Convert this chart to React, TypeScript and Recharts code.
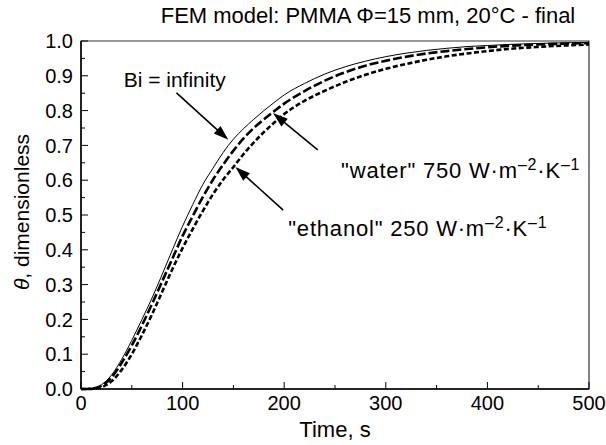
import React from 'react';
import { LineChart, Line, XAxis, YAxis, ReferenceArea, ReferenceLine, ReferenceDot, Label } from 'recharts';

const times = [0, 10, 20, 30, 40, 50, 60, 70, 80, 90, 100, 110, 120, 130, 140, 150, 160, 170, 180, 190, 200, 220, 240, 260, 280, 300, 320, 340, 360, 380, 400, 420, 450, 500];
const biInfinity = [0, 0.001, 0.012, 0.04, 0.085, 0.14, 0.2, 0.262, 0.33, 0.4, 0.468, 0.53, 0.588, 0.635, 0.68, 0.718, 0.748, 0.775, 0.8, 0.823, 0.845, 0.878, 0.905, 0.926, 0.942, 0.955, 0.965, 0.973, 0.979, 0.984, 0.987, 0.99, 0.993, 0.996];
const water = [0, 0.001, 0.009, 0.033, 0.075, 0.125, 0.183, 0.245, 0.31, 0.375, 0.44, 0.497, 0.552, 0.602, 0.645, 0.685, 0.72, 0.75, 0.775, 0.798, 0.82, 0.856, 0.886, 0.91, 0.929, 0.943, 0.955, 0.964, 0.971, 0.977, 0.982, 0.986, 0.99, 0.994];
const ethanol = [0, 0.0005, 0.005, 0.022, 0.055, 0.1, 0.155, 0.215, 0.28, 0.345, 0.405, 0.46, 0.512, 0.56, 0.602, 0.638, 0.675, 0.708, 0.738, 0.765, 0.79, 0.828, 0.857, 0.882, 0.903, 0.92, 0.934, 0.946, 0.956, 0.964, 0.971, 0.977, 0.983, 0.99];

const xTicks = [0, 50, 100, 150, 200, 250, 300, 350, 400, 450, 500];
const xMajor = [0, 100, 200, 300, 400, 500];
const yTicks = [0, 0.05, 0.1, 0.15, 0.2, 0.25, 0.3, 0.35, 0.4, 0.45, 0.5, 0.55, 0.6, 0.65, 0.7, 0.75, 0.8, 0.85, 0.9, 0.95, 1.0];
const yMajor = [0, 0.1, 0.2, 0.3, 0.4, 0.5, 0.6, 0.7, 0.8, 0.9, 1.0];

const title = 'FEM model: PMMA \u03A6=15 mm, 20\u00B0C - final';
const xTitle = 'Time, s';

// annotation anchors in data units (time, theta)
const biText = { t: 42, th: 0.888 };
const biArrow = [{ t: 94, th: 0.851 }, { t: 145, th: 0.716 }];
const waterText = { t: 256, th: 0.629 };
const waterArrow = [{ t: 233, th: 0.687 }, { t: 189, th: 0.793 }];
const ethText = { t: 204, th: 0.463 };
const ethArrow = [{ t: 199, th: 0.514 }, { t: 152, th: 0.638 }];

const data = times.map((t, i) => ({ t, bi: biInfinity[i], water: water[i], ethanol: ethanol[i] }));

const FONT = '"Liberation Sans", Arial, Helvetica, sans-serif';
const TICK_FS = 20;

const YTick = (props: any) => {
  const { x, y, payload } = props;
  const v = payload.value as number;
  const major = yMajor.some((m) => Math.abs(m - v) < 1e-6);
  const ax = x + 8;
  return (
    <g>
      <line x1={ax} x2={ax + (major ? 7 : 4)} y1={y} y2={y} stroke="#000" strokeWidth={1} />
      {major && (
        <text x={x} y={y} dy="0.36em" textAnchor="end" fontSize={TICK_FS} fontFamily={FONT} fill="#000">
          {v.toFixed(1)}
        </text>
      )}
    </g>
  );
};

const XTick = (props: any) => {
  const { x, y, payload } = props;
  const v = payload.value as number;
  const major = xMajor.includes(v);
  const ay = y - 5;
  return (
    <g>
      <line x1={x} x2={x} y1={ay} y2={ay - (major ? 7 : 4)} stroke="#000" strokeWidth={1} />
      {major && (
        <text x={x} y={y} dy={16} textAnchor="middle" fontSize={TICK_FS} fontFamily={FONT} fill="#000">
          {v}
        </text>
      )}
    </g>
  );
};

const Arrow = (props: any) => {
  const { x1, y1, x2, y2 } = props;
  const dx = x2 - x1;
  const dy = y2 - y1;
  const L = Math.hypot(dx, dy) || 1;
  const ux = dx / L;
  const uy = dy / L;
  const hl = 15;
  const hw = 5;
  const bx = x2 - ux * hl;
  const by = y2 - uy * hl;
  const pts = `${x2},${y2} ${bx - uy * hw},${by + ux * hw} ${bx + uy * hw},${by - ux * hw}`;
  return (
    <g>
      <line x1={x1} y1={y1} x2={bx + ux * 2} y2={by + uy * 2} stroke="#000" strokeWidth={1.6} />
      <polygon points={pts} fill="#000" />
    </g>
  );
};

const Unit = ({ value }: { value: string }) => (
  <>
    <tspan>{value} W·m</tspan>
    <tspan dy={-8} fontSize={16}>–2</tspan>
    <tspan dy={8}>·K</tspan>
    <tspan dy={-8} fontSize={16}>–1</tspan>
  </>
);

const makeText = (content: React.ReactNode, fs: number, ls: number) => (p: any) => (
  <text x={p.cx} y={p.cy} dy="0.35em" textAnchor="start" fontSize={fs} letterSpacing={ls} fontFamily={FONT} fill="#000">
    {content}
  </text>
);

export default function App() {
  return (
    <div style={{ position: 'absolute', left: 0, top: 0, width: 606, height: 445, background: '#fff' }}>
      <div
        style={{
          position: 'absolute',
          left: 0,
          width: 736,
          top: 3,
          textAlign: 'center',
          fontFamily: FONT,
          fontSize: 22,
          lineHeight: '25px',
          color: '#000',
          whiteSpace: 'nowrap',
        }}
      >
        {title}
      </div>
      <LineChart width={606} height={445} data={data} margin={{ top: 41, right: 17, bottom: 0, left: 0 }}>
        <XAxis
          dataKey="t"
          type="number"
          domain={[0, 500]}
          ticks={xTicks}
          interval={0}
          height={56}
          tickLine={false}
          tickSize={0}
          tickMargin={5}
          axisLine={{ stroke: '#000', strokeWidth: 1.5 }}
          tick={<XTick />}
        >
          <Label
            content={(p: any) => {
              const vb = p.viewBox;
              return (
                <text x={vb.x + vb.width / 2} y={vb.y + 48} textAnchor="middle" fontSize={22} fontFamily={FONT} fill="#000">
                  {xTitle}
                </text>
              );
            }}
          />
        </XAxis>
        <YAxis
          type="number"
          domain={[0, 1]}
          ticks={yTicks}
          interval={0}
          width={81}
          tickLine={false}
          tickSize={0}
          tickMargin={8}
          axisLine={{ stroke: '#000', strokeWidth: 1.5 }}
          tick={<YTick />}
        >
          <Label
            content={(p: any) => {
              const vb = p.viewBox;
              const cx = vb.x + 22;
              const cy = vb.y + vb.height / 2 - 3;
              return (
                <text
                  x={cx}
                  y={cy}
                  dy="0.35em"
                  textAnchor="middle"
                  transform={`rotate(-90 ${cx} ${cy})`}
                  fontSize={21}
                  fontFamily={FONT}
                  fill="#000"
                >
                  <tspan fontStyle="italic">θ</tspan>
                  <tspan>, dimensionless</tspan>
                </text>
              );
            }}
          />
        </YAxis>
        <ReferenceArea x1={0} x2={500} y1={0} y2={1} fill="none" stroke="#333" strokeWidth={1.2} />
        <Line type="monotone" dataKey="bi" stroke="#000" strokeWidth={1} dot={false} isAnimationActive={false} />
        <Line type="monotone" dataKey="water" stroke="#000" strokeWidth={2.6} strokeDasharray="9 3" dot={false} isAnimationActive={false} />
        <Line type="monotone" dataKey="ethanol" stroke="#000" strokeWidth={2.6} strokeDasharray="5 2.5" dot={false} isAnimationActive={false} />
        <ReferenceLine segment={[{ x: biArrow[0].t, y: biArrow[0].th }, { x: biArrow[1].t, y: biArrow[1].th }]} shape={<Arrow />} />
        <ReferenceLine segment={[{ x: waterArrow[0].t, y: waterArrow[0].th }, { x: waterArrow[1].t, y: waterArrow[1].th }]} shape={<Arrow />} />
        <ReferenceLine segment={[{ x: ethArrow[0].t, y: ethArrow[0].th }, { x: ethArrow[1].t, y: ethArrow[1].th }]} shape={<Arrow />} />
        <ReferenceDot x={biText.t} y={biText.th} r={0} shape={makeText('Bi = infinity', 21, 0)} />
        <ReferenceDot x={waterText.t} y={waterText.th} r={0} shape={makeText(<Unit value={'"water" 750'} />, 22, 0.8)} />
        <ReferenceDot x={ethText.t} y={ethText.th} r={0} shape={makeText(<Unit value={'"ethanol" 250'} />, 22, 0.8)} />
      </LineChart>
    </div>
  );
}
